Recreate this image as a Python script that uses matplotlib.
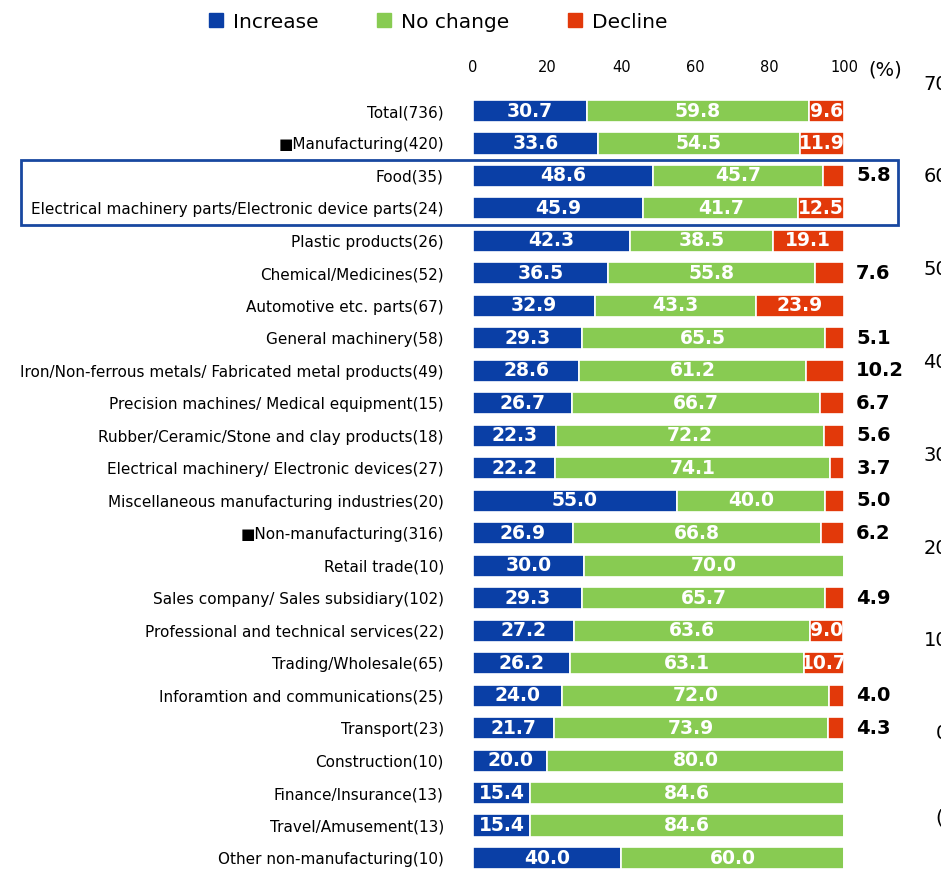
import matplotlib.pyplot as plt
import matplotlib.patches as mpatches
from matplotlib.transforms import blended_transform_factory


categories = [
    "Total(736)",
    "\u25a0Manufacturing(420)",
    "Food(35)",
    "Electrical machinery parts/Electronic device parts(24)",
    "Plastic products(26)",
    "Chemical/Medicines(52)",
    "Automotive etc. parts(67)",
    "General machinery(58)",
    "Iron/Non-ferrous metals/ Fabricated metal products(49)",
    "Precision machines/ Medical equipment(15)",
    "Rubber/Ceramic/Stone and clay products(18)",
    "Electrical machinery/ Electronic devices(27)",
    "Miscellaneous manufacturing industries(20)",
    "\u25a0Non-manufacturing(316)",
    "Retail trade(10)",
    "Sales company/ Sales subsidiary(102)",
    "Professional and technical services(22)",
    "Trading/Wholesale(65)",
    "Inforamtion and communications(25)",
    "Transport(23)",
    "Construction(10)",
    "Finance/Insurance(13)",
    "Travel/Amusement(13)",
    "Other non-manufacturing(10)",
]
increase = [30.7, 33.6, 48.6, 45.9, 42.3, 36.5, 32.9, 29.3, 28.6, 26.7, 22.3, 22.2,
            55.0, 26.9, 30.0, 29.3, 27.2, 26.2, 24.0, 21.7, 20.0, 15.4, 15.4, 40.0]
no_change = [59.8, 54.5, 45.7, 41.7, 38.5, 55.8, 43.3, 65.5, 61.2, 66.7, 72.2, 74.1,
             40.0, 66.8, 70.0, 65.7, 63.6, 63.1, 72.0, 73.9, 80.0, 84.6, 84.6, 60.0]
decline = [9.6, 11.9, 5.8, 12.5, 19.1, 7.6, 23.9, 5.1, 10.2, 6.7, 5.6, 3.7,
           5.0, 6.2, 0.0, 4.9, 9.0, 10.7, 4.0, 4.3, 0.0, 0.0, 0.0, 0.0]
# decline values written beside the bar instead of inside it
outside = [2, 5, 7, 8, 9, 10, 11, 12, 13, 15, 18, 19]
right_ticks = [70, 60, 50, 40, 30, 20, 10, 0]

BLUE = "#0A3FA6"
GREEN = "#88CB52"
RED = "#E2390A"

W, H = 941, 872
fig = plt.figure(figsize=(W / 100, H / 100), dpi=100)
plt.rcParams['font.family'] = ['DejaVu Sans']

n = len(categories)
row = (858 - 111) / (n - 1)
top_px = 111 - row / 2
bot_px = 858 + row / 2
ax = fig.add_axes([473 / W, 1 - bot_px / H, (844 - 473) / W, (bot_px - top_px) / H])

y = list(range(n))
left2 = [a + b for a, b in zip(increase, no_change)]
for vals, lefts, col in [(increase, [0] * n, BLUE), (no_change, increase, GREEN), (decline, left2, RED)]:
    ax.barh(y, vals, left=lefts, height=0.68, color=col, edgecolor="white", linewidth=1.2)

for i in range(n):
    ax.text(increase[i] / 2, i, f"{increase[i]:.1f}", ha="center", va="center",
            color="white", fontsize=13.5, fontweight="bold")
    ax.text(increase[i] + no_change[i] / 2, i, f"{no_change[i]:.1f}", ha="center", va="center",
            color="white", fontsize=13.5, fontweight="bold")
    if decline[i] > 0:
        if i in outside:
            ax.text(103.3, i, f"{decline[i]:.1f}", ha="left", va="center",
                    color="black", fontsize=14, fontweight="bold", clip_on=False)
        else:
            ax.text(left2[i] + decline[i] / 2, i, f"{decline[i]:.1f}", ha="center", va="center",
                    color="white", fontsize=13.5, fontweight="bold")

ax.set_xlim(0, 100)
ax.set_ylim(n - 0.5, -0.5)
ax.set_yticks(y)
ax.set_yticklabels(categories, fontsize=11)
ax.set_xticks([0, 20, 40, 60, 80, 100])
ax.xaxis.tick_top()
ax.tick_params(axis="x", length=0, pad=14, labelsize=10.5)
ax.tick_params(axis="y", length=0, pad=21)
for s in ax.spines.values():
    s.set_visible(False)

fig.text(868 / W, 1 - 70 / H, "(%)", fontsize=14, va="center", ha="left")

# highlight box around Food / Electrical machinery parts
tr = blended_transform_factory(fig.transFigure, ax.transData)
box = mpatches.Rectangle((21 / W, 3.5), (898 - 21) / W, -2.0, transform=tr, fill=False,
                         edgecolor="#1848A0", linewidth=2, clip_on=False)
fig.add_artist(box)

# cut-off secondary axis labels at the right edge, as in the source image
for k, v in enumerate(right_ticks):
    fig.text(948 / W, 1 - (84 + k * 92.8) / H, str(v), fontsize=14, ha="right", va="center")
fig.text(935 / W, 1 - 818 / H, "(%)", fontsize=14, ha="left", va="center")

handles = [mpatches.Patch(color=c, label=l) for c, l in [(BLUE, "Increase"), (GREEN, "No change"), (RED, "Decline")]]
fig.legend(handles=handles, loc="center", bbox_to_anchor=(438 / W, 1 - 22 / H), ncol=3, frameon=False,
           fontsize=14.5, handlelength=0.7, handleheight=0.7, handletextpad=0.5, columnspacing=2.9)

fig.savefig("out.png", dpi=100)
